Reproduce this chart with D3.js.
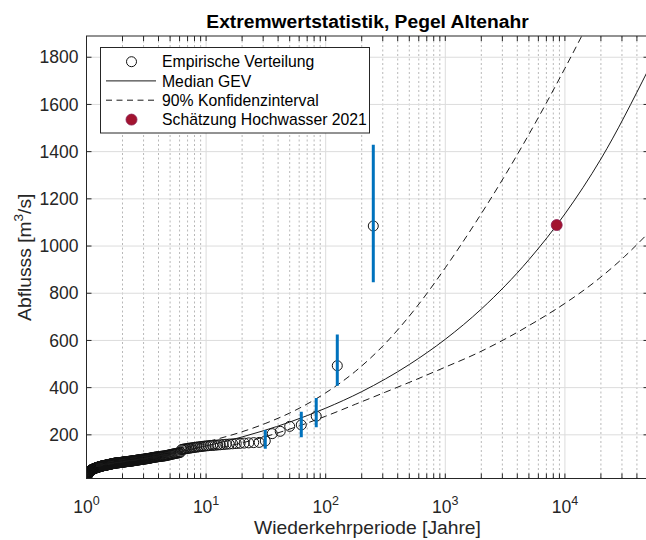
<!DOCTYPE html>
<html><head><meta charset="utf-8">
<script src="https://cdn.jsdelivr.net/npm/d3@7"></script>
<style>
html,body{margin:0;padding:0;background:#fff;}
svg{display:block;font-family:"Liberation Sans",Arial,Helvetica,sans-serif;}
</style></head><body>
<svg id="chart" width="646" height="540"></svg>
<script>
// ---------- data ----------
// empirical annual maxima, sorted descending (rank 1 = largest), m³/s
const empiricalQ = [
1085,493,279,242,236,215,205,174,168,167,166,165,164,163,162,161,160,159,158,157,156,155,155,154,153,152,151,150,149,148,147,146,145,144,143,142,141,140,139,138,126,
124,123,122,121,120,119,118,117,116,115,114,113,112,
111,111,110,110,109,109,108,108,107,107,106,106,105,105,104,104,103,102,102,101,100,
100,99,99,99,98,98,97,97,97,96,96,96,95,95,94,94,94,93,93,93,92,92,91,91,91,90,90,90,
89,89,89,89,88,88,88,88,87,87,87,87,86,86,86,86,85,85,85,85,84,84,84,84,83,83,83,83,82,82,82,82,82,81,81,81,81,81,81,
80,80,80,80,79,79,79,78,78,78,77,77,77,76,76,76,75,75,75,75,74,74,74,73,73,73,72,72,72,72,71,71,71,70,70,70,70,69,69,69,69,69,
68,68,67,67,67,66,66,66,65,65,65,64,64,64,63,63,63,62,62,62,61,61,61,60,
60,59,59,58,58,58,57,57,56,56,55,55,55,54,54,53,53,52,52,
51,50,49,48,47,46,45,44,43,42,41,
40,39,37,36,35,33,32,
30,27,24,19];

// uncertainty bars for selected ranks
const errorRanks = [1, 2, 3, 4, 8];
const errorLow   = [847, 408, 232, 190, 141];
const errorHigh  = [1429, 625, 356, 298, 221];

// GEV median
const medianT = [1.2,1.5,2,3,5,10,20,30,50,100,200,500,1000,2000,5000,10000,20000,50000];
const medianQ = [70,77,86,100,120,153,191,217,254,313,383,498,605,733,942,1136,1369,1749];
// 90% confidence interval
const upperT = [1.2,1.5,2,3,5,10,13,17.8,31.6,56.2,100,178,316,562,1000,1778,3162,5623,10000,17783];
const upperQ = [74,84,95,108,128,170,185,205,249,305,378,470,588,735,908,1097,1300,1519,1753,1998];
const lowerT = [1.2,1.5,2,3,5,10,17.8,31.6,56.2,100,178,316,562,1000,1778,3162,5623,10000,17783,31623,50000];
const lowerQ = [65,74,85,97,115,135,160,193,233,279,330,381,433,487,542,606,678,757,848,956,1056];

// estimate of 2021 flood
const estimateT = [8540];
const estimateQ = [1089];

const xTickExponents = [0, 1, 2, 3, 4];
const yTicks = [200, 400, 600, 800, 1000, 1200, 1400, 1600, 1800];
const xDomain = [1, 5e4];
const yDomain = [15, 1890];

const legendLabels = ["Empirische Verteilung", "Median GEV", "90% Konfidenzinterval", "Schätzung Hochwasser 2021"];
const titleText = "Extremwertstatistik, Pegel Altenahr";
const xLabelText = "Wiederkehrperiode [Jahre]";

// ---------- layout ----------
const W = 646, H = 540;
const L = 86.5, R = 648.5, T = 36, B = 478.5;
const axisColor = "#262626";
const svg = d3.select("#chart");
svg.append("rect").attr("width", W).attr("height", H).attr("fill", "#fff");

const x = d3.scaleLog().domain(xDomain).range([L, R]);
const y = d3.scaleLinear().domain(yDomain).range([B, T]);

svg.append("clipPath").attr("id", "clip").append("rect")
  .attr("x", L).attr("y", T).attr("width", R - L).attr("height", B - T);

const minorVals = [];
for (let e = 0; e <= 4; e++) for (let m = 2; m <= 9; m++) {
  const v = m * Math.pow(10, e);
  if (v < xDomain[1]) minorVals.push(v);
}
const majorVals = xTickExponents.map(e => Math.pow(10, e));

// grid
const grid = svg.append("g").attr("clip-path", "url(#clip)");
grid.selectAll(".minor").data(minorVals).join("line")
  .attr("x1", d => x(d)).attr("x2", d => x(d)).attr("y1", T).attr("y2", B)
  .attr("stroke", "#b8b8b8").attr("stroke-width", 1).attr("stroke-dasharray", "2,2.5");
grid.selectAll(".major").data(majorVals.slice(1)).join("line")
  .attr("x1", d => x(d)).attr("x2", d => x(d)).attr("y1", T).attr("y2", B)
  .attr("stroke", "#dcdcdc").attr("stroke-width", 1);
grid.selectAll(".hgrid").data(yTicks).join("line")
  .attr("x1", L).attr("x2", R).attr("y1", d => y(d)).attr("y2", d => y(d))
  .attr("stroke", "#dcdcdc").attr("stroke-width", 1);

// plot content
const plot = svg.append("g").attr("clip-path", "url(#clip)");
const N = empiricalQ.length;
const empirical = empiricalQ.map((q, i) => ({ T: (N + 1) / (i + 1), Q: q }));

plot.selectAll(".emp").data(empirical).join("circle")
  .attr("cx", d => x(d.T)).attr("cy", d => y(d.Q)).attr("r", 5)
  .attr("fill", "none").attr("stroke", "#111").attr("stroke-width", 1);

const line = d3.line().x(d => x(d[0])).y(d => y(d[1])).curve(d3.curveMonotoneX);
plot.append("path").attr("d", line(medianT.map((t, i) => [t, medianQ[i]])))
  .attr("fill", "none").attr("stroke", "#1a1a1a").attr("stroke-width", 1);
plot.append("path").attr("d", line(upperT.map((t, i) => [t, upperQ[i]])))
  .attr("fill", "none").attr("stroke", "#1a1a1a").attr("stroke-width", 1).attr("stroke-dasharray", "7,4.5");
plot.append("path").attr("d", line(lowerT.map((t, i) => [t, lowerQ[i]])))
  .attr("fill", "none").attr("stroke", "#1a1a1a").attr("stroke-width", 1).attr("stroke-dasharray", "7,4.5");

plot.selectAll(".err").data(errorRanks).join("line")
  .attr("x1", r => x((N + 1) / r)).attr("x2", r => x((N + 1) / r))
  .attr("y1", (r, i) => y(errorLow[i])).attr("y2", (r, i) => y(errorHigh[i]))
  .attr("stroke", "#0072BD").attr("stroke-width", 3);

plot.selectAll(".est").data(estimateT).join("circle")
  .attr("cx", d => x(d)).attr("cy", (d, i) => y(estimateQ[i])).attr("r", 5.5)
  .attr("fill", "#A2142F").attr("stroke", "#8a1a50").attr("stroke-width", 0.8);

// axes box
const ax = svg.append("g");
ax.append("rect").attr("x", L).attr("y", T).attr("width", R - L).attr("height", B - T)
  .attr("fill", "none").attr("stroke", axisColor).attr("stroke-width", 1);
const tl = 5;
const allX = majorVals.concat(minorVals);
ax.selectAll(".xtb").data(allX).join("line")
  .attr("x1", d => x(d)).attr("x2", d => x(d)).attr("y1", B).attr("y2", B - tl)
  .attr("stroke", axisColor);
ax.selectAll(".xtt").data(allX).join("line")
  .attr("x1", d => x(d)).attr("x2", d => x(d)).attr("y1", T).attr("y2", T + tl)
  .attr("stroke", axisColor);
ax.selectAll(".ytl").data(yTicks).join("line")
  .attr("x1", L).attr("x2", L + tl).attr("y1", d => y(d)).attr("y2", d => y(d))
  .attr("stroke", axisColor);
ax.selectAll(".ytr").data(yTicks).join("line")
  .attr("x1", R).attr("x2", R - tl).attr("y1", d => y(d)).attr("y2", d => y(d))
  .attr("stroke", axisColor);

// tick labels
ax.selectAll(".ylab").data(yTicks).join("text")
  .attr("x", L - 8).attr("y", d => y(d)).attr("dy", "0.35em")
  .attr("text-anchor", "end").attr("font-size", "17.5px").attr("fill", axisColor)
  .text(d => d);

const xl = ax.selectAll(".xlab").data(xTickExponents).join("text")
  .attr("x", d => x(Math.pow(10, d))).attr("y", 513)
  .attr("text-anchor", "middle").attr("fill", axisColor);
xl.append("tspan").attr("font-size", "17.5px").text("10");
xl.append("tspan").attr("font-size", "12.5px").attr("dy", -8).text(d => d);

// axis labels and title
svg.append("text").attr("x", (L + R) / 2).attr("y", 534).attr("text-anchor", "middle")
  .attr("font-size", "19.25px").attr("fill", axisColor).text(xLabelText);

const yl = svg.append("text").attr("transform", `translate(31,${(T + B) / 2}) rotate(-90)`)
  .attr("text-anchor", "middle").attr("font-size", "19.25px").attr("fill", axisColor);
yl.append("tspan").text("Abflusss [m");
yl.append("tspan").attr("font-size", "13.5px").attr("dy", -8).text("3");
yl.append("tspan").attr("dy", 8).text("/s]");

svg.append("text").attr("x", (L + R) / 2).attr("y", 28).attr("text-anchor", "middle")
  .attr("font-size", "19.25px").attr("font-weight", "bold").attr("fill", "#000").text(titleText);

// legend
const lg = svg.append("g");
lg.append("rect").attr("x", 100.5).attr("y", 47.5).attr("width", 269).attr("height", 85.5)
  .attr("fill", "#fff").attr("stroke", axisColor).attr("stroke-width", 1);
const rowY = [61.7, 80.9, 100.2, 119.6];
lg.append("circle").attr("cx", 131.5).attr("cy", rowY[0]).attr("r", 5)
  .attr("fill", "none").attr("stroke", "#111");
lg.append("line").attr("x1", 106).attr("x2", 156).attr("y1", rowY[1]).attr("y2", rowY[1])
  .attr("stroke", "#1a1a1a");
lg.append("line").attr("x1", 106).attr("x2", 156).attr("y1", rowY[2]).attr("y2", rowY[2])
  .attr("stroke", "#1a1a1a").attr("stroke-dasharray", "6,4.5");
lg.append("circle").attr("cx", 131.5).attr("cy", rowY[3]).attr("r", 5.5)
  .attr("fill", "#A2142F").attr("stroke", "#8a1a50").attr("stroke-width", 0.8);
lg.selectAll(".lt").data(legendLabels).join("text")
  .attr("x", 162).attr("y", (d, i) => rowY[i]).attr("dy", "0.36em")
  .attr("font-size", "15.75px").attr("fill", "#000").text(d => d);
</script>
</body></html>
